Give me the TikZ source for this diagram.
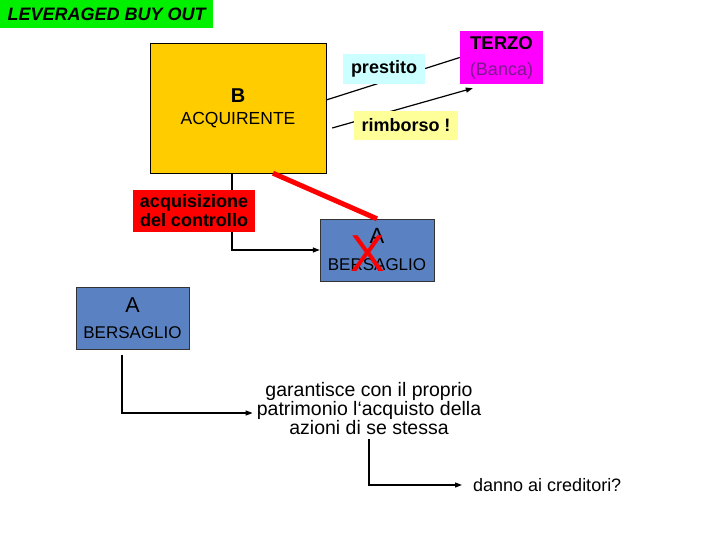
\documentclass[tikz,border=0pt]{standalone}
\usepackage{fontspec}
\setmainfont{Liberation Sans}
\usetikzlibrary{arrows.meta}
\definecolor{titlegreen}{HTML}{00F000}
\definecolor{buyergold}{HTML}{FFCC00}
\definecolor{bankmagenta}{HTML}{FF00FF}
\definecolor{bankpurple}{HTML}{7A1A8C}
\definecolor{loancyan}{HTML}{CCFFFF}
\definecolor{repayyellow}{HTML}{FFFF99}
\definecolor{targetblue}{HTML}{5A82C2}
\definecolor{ctrlred}{HTML}{FF0000}
\newcommand\fsz[2]{\fontsize{#1}{#2}\selectfont}

\begin{document}
\begin{tikzpicture}[x=1pt,y=-1pt,
    box/.style={inner sep=0pt,align=center},
    tag/.style={inner sep=0pt,align=center,font=\bfseries\fsz{18}{19}},
    conn/.style={line width=1.2pt,-{Triangle[length=7pt,width=5pt]}},
  ]
  \useasboundingbox (0,0) rectangle (720,540);
  %--- titolo ---
  \node[box,fill=titlegreen,minimum width=213pt,minimum height=28pt,anchor=north west,
        font=\bfseries\itshape\fsz{18}{20}] (title) at (0,0) {LEVERAGED BUY OUT};
  %--- riquadri ---
  \node[box,draw=black,fill=buyergold,minimum width=176pt,minimum height=130pt,
        font=\fsz{17.5}{22}] (buyer) at (238,108) {{\bfseries\fsz{20}{22}B}\\ACQUIRENTE};
  \node[box,fill=bankmagenta,minimum width=83pt,minimum height=53pt,font=\fsz{18}{26}]
        (bank) at (501.5,57.5) {{\bfseries\fsz{18.5}{26}TERZO}\\{\color{bankpurple}(Banca)}};
  \node[box,draw=black!80,fill=targetblue,minimum width=114pt,minimum height=62pt,
        font=\fsz{17}{27}] (target) at (377,250) {{\fsz{22}{27}A}\\BERSAGLIO};
  \node[box,draw=black!80,fill=targetblue,minimum width=113pt,minimum height=62pt,
        font=\fsz{17}{26}] (targetB) at (132.5,318) {{\fsz{21.5}{26}A}\\BERSAGLIO};
  \node[box,font=\fsz{19.5}{19}] (guarantee) at (369,409)
        {garantisce con il proprio\\patrimonio l‘acquisto della\\azioni di se stessa};
  \node[inner sep=0pt,anchor=west,font=\fsz{18}{20}] (harm) at (473,485) {danno ai creditori?};
  %--- collegamenti ---
  \draw[line width=1.2pt] ([yshift=8pt]buyer.east) -- (bank.west);
  \draw[conn] ([xshift=6pt,yshift=-20pt]buyer.east) -- ([xshift=13pt,yshift=-4pt]bank.south west);
  \draw[ctrlred,line width=5pt] ([xshift=35pt]buyer.south) -- (target.north);
  \draw[conn] ([xshift=-6pt]buyer.south) |- (target.west);
  \draw[conn] ([xshift=-10.5pt,yshift=-6pt]targetB.south) |- ([xshift=-4pt,yshift=-4pt]guarantee.west);
  \draw[conn] ([yshift=-4pt]guarantee.south) |- ([xshift=-11pt]harm.west);
  %--- etichette ---
  \node[tag,fill=loancyan,minimum width=82pt,minimum height=30pt] (loan) at (384,69) {prestito};
  \node[tag,fill=repayyellow,minimum width=104pt,minimum height=29pt] (repay) at (406,125.5) {rimborso !};
  \node[tag,fill=ctrlred,minimum width=122pt,minimum height=42pt] (control) at (194,211)
        {acquisizione\\del controllo};
  \node[inner sep=0pt,text=ctrlred,font=\fsz{52}{52}] (cross) at (368,253.5) {X};
\end{tikzpicture}
\end{document}
